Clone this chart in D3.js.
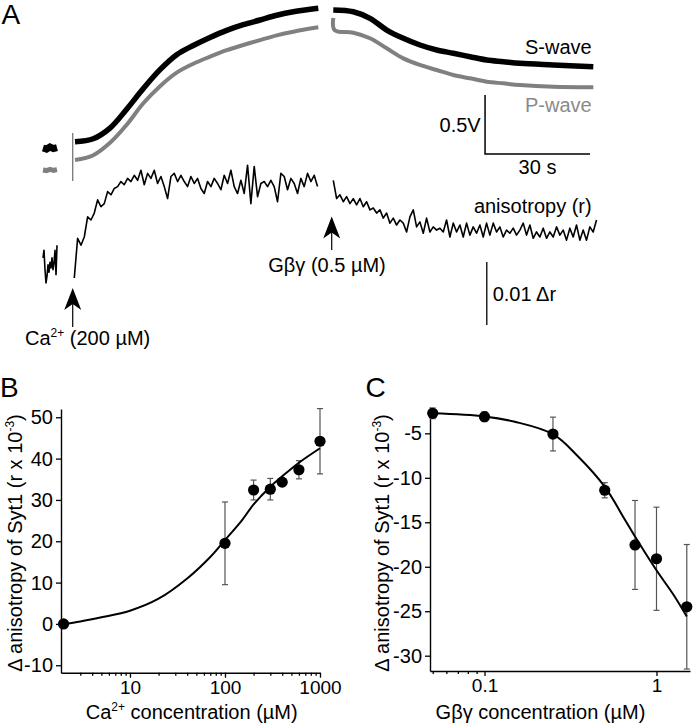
<!DOCTYPE html>
<html><head><meta charset="utf-8">
<script src="https://cdn.jsdelivr.net/npm/d3@7"></script>
<style>
body{margin:0;background:#fff}
svg{display:block}
text{font-family:"Liberation Sans",Arial,Helvetica,sans-serif}
</style>
</head><body>
<svg id="chart" width="693" height="724"></svg>
<script>
// ================= DATA =================
// Panel A: optical traces (time in s, signal in V)
const sWavePre = [[0,0.271],[1,0.262],[2,0.280],[3,0.266],[4,0.274]];
const pWavePre = [[0,0.085],[1,0.080],[2,0.090],[3,0.082],[4,0.088]];
const sWave1 = [[9.14,0.325],[14.37,0.350],[19.14,0.440],[23.91,0.600],[28.66,0.775],[33.43,0.935],[38.2,1.062],[42.94,1.140],[47.71,1.208],[52.49,1.268],[57.23,1.316],[62,1.356],[66.77,1.396],[71.51,1.426],[78.66,1.455]];
const pWave1 = [[9.14,0.169],[14.37,0.210],[19.14,0.315],[23.91,0.468],[28.66,0.650],[33.43,0.795],[38.2,0.910],[42.94,0.985],[47.71,1.045],[52.49,1.100],[57.23,1.144],[62,1.186],[66.77,1.226],[71.51,1.257],[78.66,1.294]];
const sWave2 = [[82.94,1.441],[88.66,1.426],[93.43,1.370],[98.2,1.271],[102.94,1.201],[107.71,1.144],[112.49,1.102],[117.23,1.074],[122,1.045],[126.77,1.017],[131.51,1.003],[136.29,0.989],[145.8,0.975],[157.23,0.960]];
const pWave2 = [[82.94,1.373],[83.3,1.271],[88.66,1.248],[93.43,1.201],[98.2,1.116],[102.94,1.031],[107.71,0.975],[112.49,0.932],[117.23,0.890],[122,0.862],[126.77,0.833],[131.51,0.819],[136.29,0.805],[145.8,0.790],[157.23,0.785]];
const injectionArtifact = [[8.49,0.398],[8.49,-0.008]];

// Panel A: anisotropy trace (r x 10^-3), sampled segments
const aniso1Start = 0, aniso1Step = 0.286;
const aniso1 = [6.7,7.9,4.8,2.7,3.8,5.6,4.4,6.0,5.1,6.7,4.8,5.9,7.9,4.0,8.7];
const aniso2Start = 8.94, aniso2Step = 0.952;
const aniso2 = [3.5,9.8,8.7,10.0,13.2,12.7,13.8,15.9,14.8,15.3,17.2,16.7,17.7,18.0,18.8,18.3,19.3,18.8,19.8,19.0,20.6,18.3,20.1,19.3,20.6,18.5,19.6,18.0,16.1,19.6,20.1,18.8,19.8,18.8,18.0,19.6,18.5,19.3,17.7,16.9,18.8,18.0,19.3,18.5,17.5,19.8,18.5,20.6,18.0,16.9,19.0,16.9,21.4,15.3,21.2,16.4,18.5,18.8,18.0,19.0,18.0,15.6,20.1,19.6,17.5,19.3,18.5,16.9,19.3,18.0,20.1,18.8,19.8,18.0];
const aniso3Start = 82.94, aniso3Step = 0.952;
const aniso3 = [19.0,16.1,16.7,15.6,16.4,15.3,16.1,15.1,16.1,14.8,15.6,14.3,14.6,13.8,14.3,13.0,13.8,12.2,13.0,11.9,12.7,12.2,10.8,13.2,14.3,11.6,12.4,10.6,13.0,10.8,11.6,11.1,11.4,10.8,12.7,10.0,12.2,10.8,11.9,10.0,12.2,10.3,11.6,10.6,11.9,10.0,12.2,10.3,12.2,10.8,11.6,10.0,11.1,10.6,11.4,10.3,11.1,12.2,10.3,11.9,9.8,10.8,10.0,11.4,9.8,10.8,10.0,11.6,10.3,11.1,9.5,11.4,10.0,11.9,9.5,11.1,9.5,11.6,10.8,12.7];

// Panel A: scale bars and stimuli
const barTime = [126.3, 156.3];   // 30 s
const barVolt = [0.22, 0.72];     // 0.5 V
const barAniso = [-3.97, 6.03];   // 0.01 Δr (10 x 10^-3)
const barAnisoT = 126.8;
const caArrowT = 8.49;
const gbgArrowT = 82.49;

// Panel B: Ca2+ dose response
const caConc = [2, 100, 200, 300, 400, 600, 1000];
const caMean = [0, 19.5, 32.4, 32.6, 34.3, 37.3, 44.2];
const caErr  = [0, 10.0, 2.4, 2.6, 0.8, 2.2, 7.9];
const caFitX = [2, 3, 5, 10, 20, 40, 70, 100, 150, 200, 300, 400, 600, 1000];
const caFitY = [-0.1, 0.6, 1.6, 3.2, 6.1, 11.0, 16.2, 20.3, 25.0, 28.9, 33.2, 35.7, 39.0, 42.5];
const caYTicks = [-10, 0, 10, 20, 30, 40, 50];
const caXTicks = [10, 100, 1000];
const caXMinor = [3,4,5,6,7,8,9,20,30,40,50,60,70,80,90,200,300,400,500,600,700,800,900];

// Panel C: Gβγ dose response
const gbgConc = [0.05, 0.1, 0.25, 0.5, 0.75, 1.0, 1.5];
const gbgMean = [-2.75, -3.13, -5.08, -11.4, -17.55, -19.1, -24.5];
const gbgErr  = [0.6, 0.55, 1.9, 0.85, 5.0, 5.8, 7.0];
const gbgFitX = [0.05, 0.1, 0.15, 0.25, 0.35, 0.5, 0.65, 0.75, 1.0, 1.25, 1.5];
const gbgFitY = [-2.75, -3.1, -3.7, -5.1, -7.6, -11.0, -14.6, -16.6, -20.4, -23.1, -25.6];
const gbgYTicks = [-5, -10, -15, -20, -25, -30];
const gbgXTicks = [0.1, 1];
const gbgXMinor = [0.05, 0.06, 0.07, 0.08, 0.09];

// ================= DRAW =================
const svg = d3.select("#chart");
const FS = 20;

function label(x, y, s, anchor, size, fill) {
  return svg.append("text").attr("x", x).attr("y", y)
    .attr("text-anchor", anchor || "start")
    .attr("font-size", size || FS).attr("fill", fill || "#000").text(s);
}

// ---------- Panel A ----------
const xA = d3.scaleLinear().domain([0, 160]).range([43, 603]);
const yV = d3.scaleLinear().domain([0, 1.5]).range([180, 3]);
const yR = d3.scaleLinear().domain([0, 10]).range([300, 237]);

const lineV = d3.line().x(d => xA(d[0])).y(d => yV(d[1])).curve(d3.curveCatmullRom);
const lineVlin = d3.line().x(d => xA(d[0])).y(d => yV(d[1]));
const lineR = d3.line().x(d => xA(d[0])).y(d => yR(d[1]));

const gA = svg.append("g");
// injection artifact
gA.append("path").attr("d", lineVlin(injectionArtifact)).attr("stroke", "#777").attr("stroke-width", 1.3).attr("fill", "none");
// P-wave (gray)
[pWavePre, pWave1, pWave2].forEach((seg, i) => {
  gA.append("path").attr("d", (i === 0 ? lineVlin : lineV)(seg))
    .attr("stroke", "#808080").attr("stroke-width", i === 0 ? 5 : 4).attr("fill", "none");
});
// S-wave (black)
[sWavePre, sWave1, sWave2].forEach((seg, i) => {
  gA.append("path").attr("d", (i === 0 ? lineVlin : lineV)(seg))
    .attr("stroke", "#000").attr("stroke-width", i === 0 ? 7 : 5.5).attr("fill", "none");
});
// anisotropy
function seg(start, step, vals) { return vals.map((v, i) => [start + i * step, v]); }
[seg(aniso1Start, aniso1Step, aniso1), seg(aniso2Start, aniso2Step, aniso2), seg(aniso3Start, aniso3Step, aniso3)]
  .forEach(s => gA.append("path").attr("d", lineR(s)).attr("stroke", "#000")
    .attr("stroke-width", 1.6).attr("fill", "none").attr("stroke-linejoin", "round"));

// scale bars
const bx0 = xA(barTime[0]), bx1 = xA(barTime[1]);
gA.append("path").attr("d", `M${bx0},${yV(barVolt[1])}V${yV(barVolt[0])}H${bx1}`)
  .attr("stroke", "#000").attr("stroke-width", 1.5).attr("fill", "none");
gA.append("line").attr("x1", xA(barAnisoT)).attr("x2", xA(barAnisoT))
  .attr("y1", yR(barAniso[1])).attr("y2", yR(barAniso[0]))
  .attr("stroke", "#000").attr("stroke-width", 1.3);

// arrows
function arrow(x, top, bottom) {
  gA.append("line").attr("x1", x).attr("x2", x).attr("y1", top + 14).attr("y2", bottom)
    .attr("stroke", "#000").attr("stroke-width", 1.2);
  gA.append("path").attr("d", `M${x},${top}L${x + 8.5},${top + 22}L${x},${top + 16}L${x - 8.5},${top + 22}Z`)
    .attr("fill", "#000");
}
arrow(xA(caArrowT), 288, 327);
arrow(xA(gbgArrowT), 216.5, 250);

// texts panel A
label(1.5, 23.5, "A", "start", 28);
label(591.7, 54, "S-wave", "end");
label(591.7, 111.5, "P-wave", "end", FS, "#8a8a8a");
label(480.7, 132, "0.5V", "end");
label(537.5, 173.5, "30 s", "middle");
label(591.7, 213, "anisotropy (r)", "end");
label(492.7, 301, "0.01 Δr", "start");
label(268.3, 272, "Gβγ (0.5 µM)", "start");
{
  const t = svg.append("text").attr("x", 25).attr("y", 345).attr("font-size", FS);
  t.append("tspan").text("Ca");
  t.append("tspan").attr("font-size", 12).attr("dy", -8).text("2+");
  t.append("tspan").attr("dy", 8).text(" (200 µM)");
}

// ---------- helpers for B / C ----------
function styleAxis(g) {
  g.selectAll(".domain").attr("stroke", "#000").attr("stroke-width", 1.4);
  g.selectAll(".tick line").attr("stroke", "#000").attr("stroke-width", 1.3);
  g.selectAll(".tick text").attr("font-size", FS).attr("fill", "#000")
    .attr("font-family", '"Liberation Sans",Arial,sans-serif');
  g.attr("font-family", null).attr("font-size", null);
}

function dosePanel(opts) {
  const { x, y, conc, mean, err, fitX, fitY, yTicks, xTicks, xMinor } = opts;
  const g = svg.append("g");
  // axes
  const gy = g.append("g").attr("transform", `translate(${x.range()[0]},0)`)
    .call(d3.axisLeft(y).tickValues(yTicks).tickSize(5).tickSizeOuter(0).tickPadding(3).tickFormat(d => String(d)));
  styleAxis(gy);
  const gx = g.append("g").attr("transform", `translate(0,${y.range()[0]})`)
    .call(d3.axisBottom(x).tickValues(xTicks).tickSize(5).tickSizeOuter(0).tickPadding(3).tickFormat(d => String(d)));
  styleAxis(gx);
  gx.selectAll(".tick text").attr("font-size", 19);
  const gm = g.append("g").attr("transform", `translate(0,${y.range()[0]})`)
    .call(d3.axisBottom(x).tickValues(xMinor).tickSize(3).tickSizeOuter(0).tickFormat(() => ""));
  styleAxis(gm);
  gm.select(".domain").remove();

  // error bars
  const eb = g.append("g").attr("stroke", "#555").attr("stroke-width", 1.2);
  conc.forEach((c, i) => {
    if (err[i] <= 0) return;
    const cx = x(c), y1 = y(mean[i] + err[i]), y2 = y(mean[i] - err[i]);
    eb.append("line").attr("x1", cx).attr("x2", cx).attr("y1", y1).attr("y2", y2);
    eb.append("line").attr("x1", cx - 3).attr("x2", cx + 3).attr("y1", y1).attr("y2", y1);
    eb.append("line").attr("x1", cx - 3).attr("x2", cx + 3).attr("y1", y2).attr("y2", y2);
  });
  // fit curve
  const fit = fitX.map((v, i) => [v, fitY[i]]);
  g.append("path").attr("d", d3.line().x(d => x(d[0])).y(d => y(d[1])).curve(d3.curveCatmullRom)(fit))
    .attr("fill", "none").attr("stroke", "#000").attr("stroke-width", 2);
  // points
  g.selectAll(null).data(conc).enter().append("circle")
    .attr("cx", d => x(d)).attr("cy", (d, i) => y(mean[i])).attr("r", 5.6).attr("fill", "#000");
  return g;
}

// ---------- Panel B ----------
const xB = d3.scaleLog().domain([1.88, 1000]).range([61, 320]);
const yB = d3.scaleLinear().domain([-11.8, 52]).range([672.7, 409]);
dosePanel({ x: xB, y: yB, conc: caConc, mean: caMean, err: caErr, fitX: caFitX, fitY: caFitY,
  yTicks: caYTicks, xTicks: caXTicks, xMinor: caXMinor });
label(0, 396.5, "B", "start", 28);
{
  const t = svg.append("text").attr("x", 191.7).attr("y", 719).attr("text-anchor", "middle").attr("font-size", FS);
  t.append("tspan").text("Ca");
  t.append("tspan").attr("font-size", 12).attr("dy", -8).text("2+");
  t.append("tspan").attr("dy", 8).text(" concentration (µM)");
}
function yTitle(x, y) {
  const t = svg.append("text").attr("transform", `translate(${x},${y}) rotate(-90)`)
    .attr("text-anchor", "middle").attr("font-size", FS);
  t.append("tspan").text("Δ anisotropy of Syt1 (r x 10");
  t.append("tspan").attr("font-size", 12).attr("dy", -8).text("-3");
  t.append("tspan").attr("dy", 8).text(")");
}
yTitle(22, 543);

// ---------- Panel C ----------
const xC = d3.scaleLog().domain([0.0482, 1.566]).range([430, 690]);
const yC = d3.scaleLinear().domain([-31.72, -2.04]).range([671, 407]);
dosePanel({ x: xC, y: yC, conc: gbgConc, mean: gbgMean, err: gbgErr, fitX: gbgFitX, fitY: gbgFitY,
  yTicks: gbgYTicks, xTicks: gbgXTicks, xMinor: gbgXMinor });
label(365.5, 396.5, "C", "start", 28);
label(540.5, 719, "Gβγ concentration (µM)", "middle");
yTitle(389, 543);
</script>
</body></html>
